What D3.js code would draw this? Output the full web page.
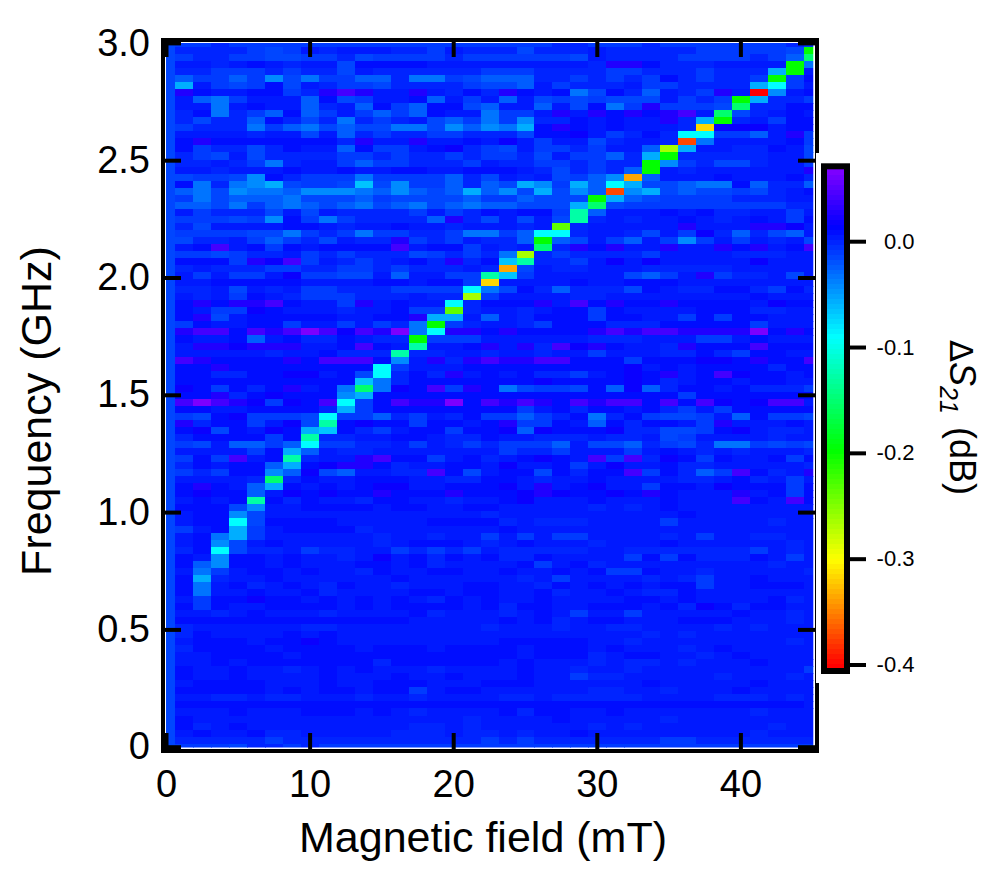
<!DOCTYPE html>
<html>
<head>
<meta charset="utf-8">
<script src="https://cdn.jsdelivr.net/npm/d3@7"></script>
<style>
html,body{margin:0;padding:0;background:#fff}
svg{display:block;font-family:"Liberation Sans",Arial,sans-serif}
</style>
</head>
<body>
<svg id="chart" width="997" height="873"></svg>
<script>
// Field steps (mT), frequency steps (GHz)
const fieldValues = d3.range(37).map(i => i * 1.25);
const freqValues = d3.range(101).map(i => i * 0.03);
const xTickValues = [0, 10, 20, 30, 40];
const xTickLabels = ["0", "10", "20", "30", "40"];
const yTickValues = [0, 0.5, 1, 1.5, 2, 2.5, 3];
const yTickLabels = ["0", "0.5", "1.0", "1.5", "2.0", "2.5", "3.0"];
const barTickValues = [0, -0.1, -0.2, -0.3, -0.4];
const barTickLabels = ["0.0", "-0.1", "-0.2", "-0.3", "-0.4"];

// Read-off levels, in dB
const levelDb = {
  p: 0.066, q: 0.042, r: 0.029, s: 0.02,
  0: 0.009, 1: 0.005, 2: -0.001, 3: -0.007, 4: -0.014, 5: -0.024,
  6: -0.034, 7: -0.044, 8: -0.055, 9: -0.067,
  c: -0.09, d: -0.125, e: -0.153, g: -0.197, h: -0.237, i: -0.266,
  y: -0.314, o: -0.333, n: -0.373, t: -0.40
};
// Colour scale stops
const stopDb = [0.068, 0.015, -0.09, -0.197, -0.30, -0.40];
const stopColor = ["#8000ff", "#0000ff", "#00ffff", "#00ff00", "#ffff00", "#ff0000"];

// First field column, same level down all frequencies
const edgeLevel = "4";
// Rows listed from 3.00 GHz down to 0 GHz: field columns 1.25-22.5 mT
const rowsLeft = [
"332333333333333333","222234312111223122","322334433243333233","112101211400001111","223332322412222223",
"533537463355266345","813430412334222234","r0110032rqr11r1202","156311150431105131","116101152150350045",
"206235053135350116","242250242623214536","322263564544664757","111121141523223322","0r00000002r11r1101",
"032242011503310s23","234142222332322323","221236211353322231","112111011011001100","433470233363333524",
"062678433494733525","564766577765754585","364555644453444453","554635654564564565","132224141222231320",
"333437036322225r24","241111001211011211","333344632363322366","422135324122r32312","10q103010000q10031",
"334322132322243232","0003rsq31232102r20","212223322332322212",
"131331s3344151133d","11000001111001003y","2214121332223333c6","1213012333222122i3","0r0rrq0113r1011c20",
"0133s0111211033h21","0r41000001100r8815","30110031131326g321","rqq0qrqpqsqrp6crr0","0110510220122g3331",
"1rrsrrr110q01d110r","111112110222d22112","qr0000r0qqq071r2rq","00r00000000c311100","002200ss104c202r10",
"000000000096200000","s03020r106e6s0q3r0","00r20s000780000000","qpqrs3s0qc30qrrp0q","001100002830000000",
"340s3334c335231203","r20031s4d0s0030010","0s401s089023100300","2000030d2211001220","3415535c3322131232",
"111130851221111111","303q10d211rq003102","20100580srr0211001","3230075s451122q041","11112e201100011220",
"0r015801010ss11000","0s0051s0s00r000r00","1010d0201120011211","000471100001001100",
"100741111111111112","100c40000111110000","310831000021111111","106831111112112113","107410111112100012",
"20c422132211323231","01700101121s102010","057001011100102111","163100101120110011","082110111111011111",
"061021012011211100","061101102111100100","1300s0010101012010","030110000101000010","112101112111102111",
"000000000000011111","211111122111111112","201111010111111111","1000100s0111111111","200001000010001000",
"110000100000000000","110100000002000000","011011210101112111","011011110111011011","100001110110001110",
"000001010010031001","112212211121121111","000000000000000000","111011100010121111","011111111111111121",
"021011111111122121","101102211111222122","222223222222222223","333422323333333333"
];
// Same rows: field columns 23.75-45 mT
const rowsRight = [
"333223332333333323","24222122222333334g","33334122223333235e","111112rr02221111g6","3322223322232228g1",
"552232323023223g30","451322213322228c31","r01064025123r1t710","5143434441323g8223","11514063r3334e2200",
"331r1r0r0rq1e42101","372201011r28g21300","680r0101112ysss100","2400s13202cc3351r3","s131142112n6111103",
"413323115i81122014","324133528g22222114","22332322g732442113","01242325g12111111r","1214357o5111011102",
"487385c84456605225","748475n78454434210","35444g854333322211","54448e433333333322","1003d5111010221131",
"1414d2121101210130","121h211111r111rrs1","35cc2112413s252451","25g541351373131214","21e2r0r11r11r0r10q",
"6i2322223111122211","9d2231s1s11111s111","o41221112222211111",
"93111114531r322141","111101100011111111","402522240122002302","111122111111110111","00r1q0r00r00001s00",
"121003011110002211","120003001130300111","123000222000003111","r0000rqrqqrrrrp0r0","111112221113310111",
"1r2qsr0112r000q000","112113111220230011","rrqq0003000ss0r00q","0000000s1010000200","1022310s0r10qs0010",
"00s0000s0210010011","6433405s5200102223","000000000030000000","rqr0qrqq0q0qs0sqq1","031020010231300000",
"353206203443150334","r33015020013r11101","s5s000s224430s1221","112221221431111211","333514452342663434",
"322311131012121112","10s01q3q2s03011030","s11031s11022111112","0040200q30253q021r","012110111122102131",
"s1r10s113001s00030","0srs00s0r0111r1030","0s11101110111q01q0","111112121011111111",
"111111111101111111","212221111311111211","011111111111111111","131331111213112211","101112111011111121",
"222221122222223121","220111130302220131","103102111111111211","011010330112111112","121311112123110111",
"112010101003110001","110211012201111111","110111100101111021","20011000102s020011","210131131111101121",
"010210011100011121","111211221111212111","111111112121111111","000001121111111121","010001011121011111",
"010002100112101111","101112122121110111","101121121111111113","101132211111211121","001111110111110111",
"111112211211101111","221222221111222121","000000000000000001","020011011111112111","111011111211111111",
"111112121111111211","121101111111112111","232222222332222222","333333333333333333"
];

const cells = [];
rowsLeft.forEach((left, r) => {
  const code = edgeLevel + left + rowsRight[r];
  const f = freqValues[freqValues.length - 1 - r];
  code.split("").forEach((c, j) => cells.push({ field: fieldValues[j], freq: f, db: levelDb[c] }));
});

const svg = d3.select("#chart");
const x = d3.scaleLinear().domain([0, 45]).range([166.5, 812.7]);
const y = d3.scaleLinear().domain([0, 3]).range([747.2, 43.4]);
const barY = d3.scaleLinear().domain([0, -0.4]).range([241.7, 665]);

const smooth = d3.scaleLinear().domain(stopDb).range(stopColor).interpolate(d3.interpolateRgb);
const bandEdges = d3.range(101).map(i => -0.403 + i * (0.4715 / 100));
const color = v => {
  const i = Math.max(0, Math.min(99, Math.floor((v - bandEdges[0]) / (bandEdges[1] - bandEdges[0]))));
  return smooth((bandEdges[i] + bandEdges[i + 1]) / 2);
};

svg.append("defs").append("clipPath").attr("id", "plot").append("rect")
  .attr("x", 166).attr("y", 43).attr("width", 647.3).attr("height", 704.5);

const cw = x(1.25) - x(0), ch = y(0) - y(0.03);
svg.append("g").attr("clip-path", "url(#plot)").attr("shape-rendering", "crispEdges")
  .selectAll("rect").data(cells).join("rect")
  .attr("x", d => x(d.field) - cw / 2)
  .attr("y", d => y(d.freq) - ch / 2)
  .attr("width", cw + 0.3)
  .attr("height", ch + 0.3)
  .attr("fill", d => color(d.db));

// Frame
svg.append("rect").attr("x", 163).attr("y", 40).attr("width", 654).attr("height", 711)
  .attr("fill", "none").attr("stroke", "#000").attr("stroke-width", 4);

function styleAxis(g, width, size) {
  g.select(".domain").remove();
  g.selectAll(".tick line").attr("stroke", "#000").attr("stroke-width", width);
  g.selectAll(".tick text").attr("fill", "#000").attr("font-size", size);
  g.attr("font-family", null);
}
const fmt = (vals, labs) => d => labs[vals.indexOf(d)];

svg.append("g").attr("transform", "translate(161,0)")
  .call(d3.axisLeft(y).tickValues(yTickValues).tickFormat(fmt(yTickValues, yTickLabels)).tickSize(-20).tickPadding(11).offset(0))
  .call(styleAxis, 4, 38);
svg.append("g").attr("transform", "translate(0,753)")
  .call(d3.axisBottom(x).tickValues(xTickValues).tickFormat(fmt(xTickValues, xTickLabels)).tickSize(-20).tickPadding(17).offset(0))
  .call(styleAxis, 4, 38);
svg.append("g").attr("transform", "translate(0,38)")
  .call(d3.axisTop(x).tickValues(xTickValues).tickFormat("").tickSize(-19).offset(0))
  .call(styleAxis, 4, 38);
svg.append("g").attr("transform", "translate(819,0)")
  .call(d3.axisRight(y).tickValues(yTickValues).tickFormat("").tickSize(-21).offset(0))
  .call(styleAxis, 4, 38);

// White panel behind the colour bar, over the right frame edge
svg.append("rect").attr("x", 816).attr("y", 153).attr("width", 40).attr("height", 530).attr("fill", "#fff");

// Colour bar
const barBands = bandEdges.slice(0, 100);
svg.append("g").attr("shape-rendering", "crispEdges").selectAll("rect").data(barBands).join("rect")
  .attr("x", 827).attr("width", 17)
  .attr("y", d => barY(d + 0.4715 / 100))
  .attr("height", d => barY(d) - barY(d + 0.4715 / 100) + 0.5)
  .attr("fill", d => color(d + 0.002));
svg.append("rect").attr("x", 824).attr("y", 166.3).attr("width", 23).attr("height", 504.7)
  .attr("fill", "none").attr("stroke", "#000").attr("stroke-width", 6);
const barAxis = svg.append("g").attr("transform", "translate(850,0)")
  .call(d3.axisRight(barY).tickValues(barTickValues).tickFormat(fmt(barTickValues, barTickLabels)).tickSize(16).offset(0))
  .call(styleAxis, 4, 22);
barAxis.selectAll(".tick text").attr("x", 64.5).attr("text-anchor", "end");

// Axis titles
svg.append("text").attr("x", 483).attr("y", 852).attr("text-anchor", "middle").attr("font-size", 43).text("Magnetic field (mT)");
svg.append("text").attr("transform", "translate(51,411) rotate(-90)").attr("text-anchor", "middle").attr("font-size", 43).text("Frequency (GHz)");

const t = svg.append("g").attr("transform", "translate(950,340) rotate(90)");
t.append("text").attr("x", 0).attr("y", 0).attr("font-size", 32).attr("font-family", "'DejaVu Sans'").text("Δ");
t.append("text").attr("x", 22).attr("y", 0).attr("font-size", 36).attr("font-style", "italic").text("S");
t.append("text").attr("x", 46).attr("y", 10).attr("font-size", 25).attr("font-style", "italic").text("21");
t.append("text").attr("x", 87).attr("y", 0).attr("font-size", 36).text("(dB)");
</script>
</body>
</html>
